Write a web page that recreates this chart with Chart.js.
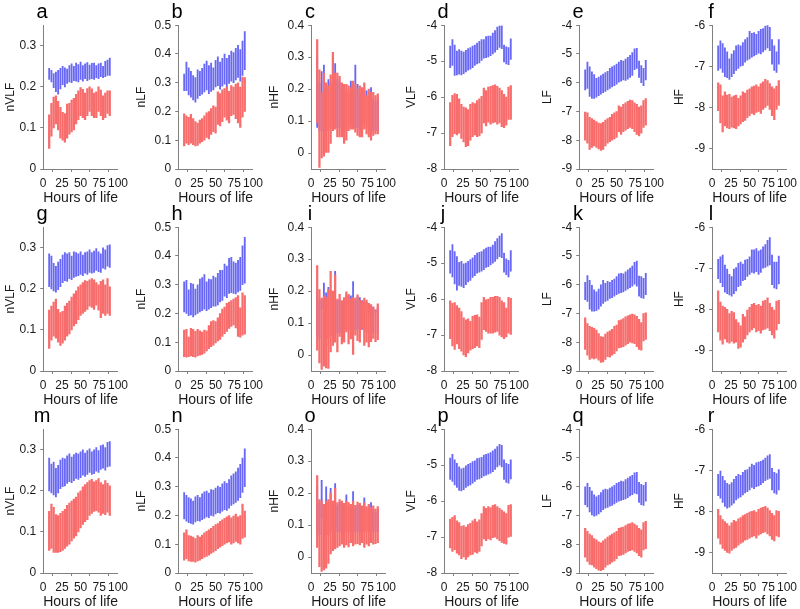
<!DOCTYPE html>
<html>
<head>
<meta charset="utf-8">
<script src="https://cdn.jsdelivr.net/npm/chart.js@4.4.1/dist/chart.umd.min.js"></script>
<style>
  body { margin: 0; background: #fff; }
  #fig { position: relative; width: 800px; height: 609px; overflow: hidden; background: #fff; }
  #fig canvas { position: absolute; }
  .letter { position: absolute; font: 20px "Liberation Sans", Arial, sans-serif; line-height: 20px; color: #000; transform: translateX(-50%); }
</style>
</head>
<body>
<div id="fig"></div>
<script>
// hours of life for each bar
const hours = [8, 11, 14, 17, 20, 23, 26, 29, 32, 35, 38, 41, 44, 47, 50, 53, 56, 59, 62, 65, 68, 71, 74, 77, 80, 83, 86, 89];
const xTicks = [0, 25, 50, 75, 100];

// y axis per column
const yLabels = ['nVLF', 'nLF', 'nHF', 'VLF', 'LF', 'HF'];
const yMins = [0, 0, -0.05, -8, -9, -9.5];
const yMaxs = [0.35, 0.5, 0.4, -4, -4, -6];
const yTicks = [
  [0, 0.1, 0.2, 0.3],
  [0, 0.1, 0.2, 0.3, 0.4, 0.5],
  [0, 0.1, 0.2, 0.3, 0.4],
  [-8, -7, -6, -5, -4],
  [-9, -8, -7, -6, -5, -4],
  [-9, -8, -7, -6]
];

// ---- row 1 ----
const aBlueHi = [.245,.240,.232,.236,.240,.245,.250,.246,.243,.252,.256,.250,.258,.254,.260,.252,.256,.259,.253,.257,.258,.252,.256,.258,.250,.262,.265,.270];
const aBlueLo = [.218,.212,.198,.188,.182,.195,.205,.200,.208,.212,.210,.215,.214,.212,.218,.214,.220,.215,.218,.220,.218,.222,.220,.225,.222,.225,.228,.228];
const aRedHi = [.132,.160,.175,.178,.165,.150,.138,.135,.158,.160,.168,.172,.182,.190,.198,.194,.185,.196,.200,.195,.185,.188,.200,.192,.178,.185,.190,.190];
const aRedLo = [.050,.080,.100,.110,.095,.075,.070,.065,.075,.085,.090,.095,.110,.120,.130,.125,.120,.130,.140,.130,.125,.125,.140,.130,.120,.125,.135,.130];

const bBlueHi = [.330,.372,.352,.340,.325,.318,.345,.340,.350,.365,.375,.360,.368,.352,.378,.390,.372,.385,.400,.385,.395,.410,.405,.420,.430,.415,.445,.478];
const bBlueLo = [.272,.272,.258,.250,.240,.232,.245,.255,.260,.268,.275,.262,.270,.275,.285,.290,.278,.288,.295,.285,.298,.305,.300,.310,.318,.305,.325,.345];
const bRedHi = [.192,.185,.180,.190,.175,.165,.160,.170,.175,.185,.195,.200,.210,.220,.215,.268,.262,.275,.280,.285,.270,.290,.285,.295,.300,.285,.320,.318];
const bRedLo = [.080,.090,.085,.090,.085,.080,.082,.090,.095,.100,.110,.105,.120,.130,.125,.155,.150,.165,.180,.170,.160,.185,.190,.175,.160,.145,.180,.200];

const cBlueHi = [.300,.220,.255,.275,.200,.230,.220,.280,.280,.230,.220,.200,.200,.200,.190,.225,.200,.275,.215,.190,.190,.200,.195,.180,.205,.170,.160,.170];
const cBlueLo = [.080,.070,.070,.070,.070,.070,.080,.080,.090,.080,.080,.070,.070,.070,.080,.090,.080,.080,.080,.070,.070,.090,.080,.070,.070,.070,.070,.070];
const cRedHi = [.355,.260,.190,.250,.220,.210,.245,.315,.250,.250,.240,.220,.215,.215,.210,.205,.225,.215,.200,.210,.205,.220,.180,.200,.190,.190,.180,.185];
const cRedLo = [.095,-.045,-.015,-.010,.000,.000,.030,.070,.075,.050,.050,.050,.030,.040,.070,.075,.075,.065,.055,.050,.050,.075,.060,.050,.040,.055,.060,.060];

const dBlueHi = [-4.58,-4.40,-4.55,-4.72,-4.68,-4.72,-4.75,-4.70,-4.65,-4.62,-4.58,-4.55,-4.50,-4.45,-4.40,-4.40,-4.32,-4.30,-4.30,-4.22,-4.15,-4.05,-4.02,-4.02,-4.55,-4.60,-4.62,-4.38];
const dBlueLo = [-5.18,-5.12,-5.40,-5.38,-5.36,-5.38,-5.35,-5.30,-5.25,-5.22,-5.18,-5.12,-5.08,-5.05,-4.98,-4.92,-4.90,-4.88,-4.85,-4.80,-4.75,-4.68,-4.62,-4.65,-5.02,-5.08,-5.10,-4.95];
const dRedHi = [-6.15,-5.95,-5.90,-5.92,-6.05,-6.20,-6.28,-6.30,-6.35,-6.20,-6.15,-6.18,-6.10,-6.05,-5.98,-5.75,-5.82,-5.72,-5.70,-5.68,-5.66,-5.70,-5.75,-5.82,-5.92,-6.00,-5.72,-5.68];
const dRedLo = [-7.35,-7.10,-7.02,-7.05,-7.00,-7.15,-7.25,-7.38,-7.35,-7.20,-7.10,-7.05,-7.10,-7.08,-7.00,-6.72,-6.80,-6.70,-6.75,-6.72,-6.70,-6.75,-6.72,-6.82,-6.85,-6.78,-6.62,-6.62];

const eBlueHi = [-5.55,-5.28,-5.45,-5.62,-5.72,-5.85,-5.80,-5.75,-5.70,-5.65,-5.60,-5.50,-5.45,-5.40,-5.35,-5.28,-5.22,-5.25,-5.18,-5.12,-5.05,-4.95,-4.82,-4.80,-5.25,-5.40,-5.50,-5.22];
const eBlueLo = [-6.25,-6.20,-6.48,-6.55,-6.55,-6.50,-6.45,-6.40,-6.35,-6.30,-6.25,-6.20,-6.15,-6.10,-6.05,-5.98,-5.95,-5.90,-5.92,-5.88,-5.82,-5.75,-5.55,-5.50,-5.82,-6.00,-6.10,-5.90];
const eRedHi = [-7.02,-7.05,-7.20,-7.25,-7.30,-7.35,-7.40,-7.42,-7.38,-7.30,-7.25,-7.20,-7.10,-7.05,-7.00,-6.80,-6.85,-6.75,-6.70,-6.65,-6.60,-6.62,-6.70,-6.75,-6.85,-6.80,-6.62,-6.55];
const eRedLo = [-8.00,-8.10,-8.32,-8.25,-8.20,-8.25,-8.30,-8.35,-8.32,-8.20,-8.10,-8.05,-8.00,-7.95,-7.90,-7.70,-7.80,-7.70,-7.65,-7.60,-7.55,-7.60,-7.70,-7.80,-7.85,-7.75,-7.55,-7.48];

const fBlueHi = [-6.50,-6.38,-6.45,-6.55,-6.65,-6.82,-6.70,-6.62,-6.50,-6.48,-6.50,-6.42,-6.35,-6.30,-6.15,-6.20,-6.18,-6.22,-6.15,-6.10,-6.08,-6.02,-6.00,-6.05,-6.35,-6.50,-6.65,-6.35];
const fBlueLo = [-7.10,-7.05,-7.15,-7.25,-7.28,-7.32,-7.25,-7.18,-7.10,-7.05,-7.00,-6.98,-6.90,-6.85,-6.82,-6.78,-6.75,-6.72,-6.68,-6.70,-6.65,-6.60,-6.55,-6.62,-6.95,-7.10,-7.15,-6.95];
const fRedHi = [-7.40,-7.45,-7.72,-7.62,-7.70,-7.68,-7.75,-7.72,-7.70,-7.78,-7.72,-7.62,-7.65,-7.58,-7.55,-7.50,-7.48,-7.45,-7.50,-7.42,-7.38,-7.32,-7.35,-7.42,-7.50,-7.55,-7.48,-7.35];
const fRedLo = [-8.08,-8.38,-8.60,-8.45,-8.50,-8.52,-8.48,-8.50,-8.52,-8.45,-8.40,-8.35,-8.32,-8.25,-8.20,-8.15,-8.18,-8.12,-8.10,-8.15,-8.05,-8.00,-7.95,-8.05,-8.20,-8.30,-8.05,-7.95];

// ---- row 2 ----
const gBlueHi = [.285,.280,.262,.255,.265,.272,.282,.288,.285,.288,.280,.290,.288,.285,.290,.282,.288,.290,.295,.288,.292,.298,.290,.285,.300,.295,.305,.307];
const gBlueLo = [.205,.200,.195,.192,.198,.205,.215,.220,.218,.225,.222,.228,.230,.232,.235,.232,.238,.235,.240,.238,.240,.245,.242,.240,.250,.248,.255,.252];
const gRedHi = [.148,.158,.168,.175,.150,.142,.145,.158,.165,.170,.180,.188,.195,.205,.210,.215,.220,.218,.222,.225,.222,.215,.210,.218,.222,.210,.225,.205];
const gRedLo = [.055,.075,.085,.080,.070,.062,.068,.075,.085,.090,.100,.110,.115,.125,.135,.140,.145,.150,.158,.155,.150,.160,.148,.130,.140,.135,.140,.135];

const hBlueHi = [.310,.315,.282,.305,.302,.285,.300,.320,.325,.335,.310,.320,.318,.330,.325,.340,.350,.350,.372,.365,.392,.395,.380,.375,.385,.395,.435,.465];
const hBlueLo = [.205,.200,.192,.195,.188,.195,.200,.205,.210,.215,.210,.215,.220,.225,.225,.230,.240,.245,.260,.255,.270,.272,.270,.268,.275,.280,.300,.305];
const hRedHi = [.142,.145,.118,.148,.145,.138,.145,.140,.135,.142,.140,.158,.172,.175,.172,.185,.200,.215,.222,.235,.240,.245,.250,.255,.262,.220,.272,.262];
const hRedLo = [.050,.048,.050,.052,.050,.048,.052,.055,.058,.062,.070,.078,.085,.090,.098,.105,.110,.120,.130,.138,.148,.155,.160,.150,.120,.118,.125,.128];

const iBlueHi = [.200,.170,.175,.225,.195,.212,.200,.190,.262,.170,.172,.165,.175,.185,.185,.185,.230,.170,.182,.180,.170,.165,.165,.162,.155,.150,.140,.150];
const iBlueLo = [.060,.050,.145,.050,.050,.050,.060,.060,.200,.070,.070,.070,.070,.080,.080,.080,.170,.080,.080,.080,.080,.080,.070,.130,.070,.070,.135,.070];
const iRedHi = [.280,.205,.178,.185,.180,.205,.262,.200,.250,.175,.190,.170,.180,.198,.190,.175,.180,.178,.188,.172,.168,.178,.172,.162,.158,.150,.142,.160];
const iRedLo = [.015,-.025,-.045,-.035,-.040,-.042,.010,.030,.040,.010,.058,.035,.040,.072,.035,.050,.000,.062,.045,.040,.082,.030,.040,.025,.042,.052,.042,.048];

const jBlueHi = [-4.65,-4.48,-4.68,-4.82,-4.98,-4.95,-5.02,-5.00,-4.95,-4.90,-4.85,-4.78,-4.72,-4.70,-4.68,-4.62,-4.58,-4.55,-4.55,-4.50,-4.40,-4.32,-4.25,-4.18,-4.72,-4.88,-4.92,-4.65];
const jBlueLo = [-5.28,-5.38,-5.58,-5.75,-5.62,-5.65,-5.68,-5.60,-5.52,-5.48,-5.40,-5.35,-5.28,-5.25,-5.22,-5.18,-5.12,-5.10,-5.05,-5.00,-4.95,-4.88,-4.82,-4.85,-5.25,-5.32,-5.38,-5.22];
const jRedHi = [-6.05,-6.12,-6.10,-6.18,-6.25,-6.35,-6.52,-6.58,-6.55,-6.62,-6.48,-6.45,-6.44,-6.50,-6.10,-5.95,-6.02,-6.00,-5.95,-5.95,-5.92,-5.92,-5.95,-6.05,-6.10,-6.25,-5.95,-5.98];
const jRedLo = [-7.10,-7.30,-7.40,-7.25,-7.38,-7.45,-7.55,-7.60,-7.50,-7.42,-7.38,-7.35,-7.30,-7.35,-7.12,-6.85,-6.90,-6.95,-6.95,-6.95,-6.92,-6.90,-7.00,-7.05,-7.10,-7.05,-6.95,-6.98];

const kBlueHi = [-5.92,-5.68,-5.85,-6.02,-6.18,-6.25,-6.15,-6.00,-5.85,-5.95,-5.88,-5.92,-5.85,-5.80,-5.72,-5.62,-5.60,-5.62,-5.55,-5.48,-5.42,-5.35,-5.22,-5.18,-5.70,-5.72,-5.78,-5.60];
const kBlueLo = [-6.52,-6.58,-6.85,-6.92,-6.92,-6.90,-6.85,-6.75,-6.65,-6.58,-6.55,-6.48,-6.45,-6.40,-6.35,-6.30,-6.28,-6.25,-6.20,-6.15,-6.10,-6.05,-5.98,-6.05,-6.40,-6.45,-6.48,-6.35];
const kRedHi = [-7.15,-7.35,-7.45,-7.48,-7.52,-7.58,-7.70,-7.80,-7.82,-7.72,-7.65,-7.60,-7.55,-7.45,-7.40,-7.25,-7.22,-7.18,-7.12,-7.08,-7.05,-7.02,-7.05,-7.10,-7.20,-7.32,-7.00,-6.98];
const kRedLo = [-8.25,-8.45,-8.60,-8.55,-8.58,-8.55,-8.62,-8.70,-8.68,-8.60,-8.50,-8.52,-8.45,-8.40,-8.30,-8.20,-8.18,-8.15,-8.10,-8.05,-8.00,-8.02,-8.05,-8.15,-8.25,-8.28,-7.95,-7.90];

const lBlueHi = [-6.78,-6.72,-6.68,-6.92,-7.02,-7.15,-7.20,-7.02,-6.98,-6.88,-6.85,-6.90,-6.80,-6.78,-6.72,-6.55,-6.55,-6.52,-6.58,-6.55,-6.48,-6.42,-6.32,-6.25,-6.68,-6.85,-6.85,-6.70];
const lBlueLo = [-7.25,-7.35,-7.45,-7.58,-7.62,-7.65,-7.68,-7.62,-7.55,-7.45,-7.42,-7.30,-7.28,-7.20,-7.15,-7.10,-7.12,-7.08,-7.15,-7.10,-7.00,-6.98,-6.95,-6.92,-7.40,-7.48,-7.50,-7.38];
const lRedHi = [-7.55,-7.82,-7.92,-7.95,-8.00,-8.10,-8.05,-8.08,-8.25,-8.32,-8.40,-8.12,-8.18,-8.02,-7.95,-7.88,-7.85,-7.90,-7.88,-7.92,-7.80,-7.78,-7.72,-7.85,-7.95,-8.02,-7.80,-7.78];
const lRedLo = [-8.55,-8.75,-8.85,-8.72,-8.80,-8.82,-8.78,-8.82,-8.80,-8.95,-8.92,-8.80,-8.72,-8.62,-8.55,-8.50,-8.45,-8.55,-8.52,-8.58,-8.50,-8.48,-8.45,-8.52,-8.62,-8.70,-8.50,-8.35];

// ---- row 3 ----
const mBlueHi = [.280,.265,.270,.255,.262,.275,.280,.278,.285,.290,.282,.288,.292,.290,.295,.300,.292,.298,.302,.295,.300,.305,.298,.310,.312,.305,.318,.320];
const mBlueLo = [.200,.195,.190,.185,.195,.205,.210,.212,.218,.222,.220,.225,.230,.228,.232,.238,.235,.240,.245,.240,.242,.248,.245,.252,.255,.250,.258,.260];
const mRedHi = [.150,.168,.160,.142,.140,.145,.150,.155,.165,.170,.175,.180,.185,.195,.200,.210,.215,.220,.225,.228,.222,.225,.230,.220,.215,.225,.218,.212];
const mRedLo = [.055,.060,.050,.050,.050,.052,.055,.060,.065,.070,.078,.085,.090,.100,.110,.118,.125,.130,.140,.145,.150,.152,.148,.140,.145,.142,.148,.140];

const nBlueHi = [.280,.270,.262,.258,.250,.265,.270,.262,.275,.282,.285,.278,.290,.288,.295,.302,.298,.310,.318,.312,.325,.338,.345,.352,.365,.378,.400,.432];
const nBlueLo = [.188,.180,.175,.172,.170,.178,.182,.180,.185,.190,.195,.192,.200,.198,.205,.210,.208,.215,.220,.218,.225,.235,.240,.245,.252,.262,.280,.300];
const nRedHi = [.140,.150,.130,.128,.125,.120,.130,.125,.132,.140,.145,.150,.155,.162,.168,.172,.180,.185,.190,.195,.200,.192,.198,.205,.195,.200,.240,.215];
const nRedLo = [.045,.050,.042,.040,.040,.038,.042,.045,.050,.055,.058,.062,.068,.072,.078,.085,.090,.095,.100,.105,.108,.100,.105,.110,.105,.100,.120,.125];

const oBlueHi = [.220,.170,.240,.155,.220,.170,.215,.165,.230,.160,.170,.165,.158,.195,.160,.155,.205,.152,.162,.158,.150,.185,.148,.155,.170,.150,.140,.148];
const oBlueLo = [.080,.070,.120,.070,.070,.070,.080,.080,.100,.080,.080,.080,.080,.080,.080,.080,.080,.080,.080,.080,.080,.080,.080,.080,.080,.080,.080,.080];
const oRedHi = [.255,.180,.175,.165,.175,.180,.200,.175,.215,.170,.180,.175,.168,.175,.170,.165,.175,.162,.172,.168,.160,.170,.158,.165,.155,.160,.150,.158];
const oRedLo = [.030,-.030,-.045,-.040,-.035,-.020,.010,.020,.025,.030,.035,.040,.030,.038,.032,.045,.035,.040,.042,.038,.045,.030,.040,.035,.045,.040,.042,.045];

const pBlueHi = [-4.80,-4.70,-4.85,-4.95,-5.05,-5.10,-5.08,-5.02,-4.98,-4.95,-4.90,-4.88,-4.82,-4.80,-4.78,-4.72,-4.70,-4.68,-4.65,-4.60,-4.55,-4.48,-4.42,-4.45,-4.85,-4.95,-4.98,-4.85];
const pBlueLo = [-5.40,-5.45,-5.55,-5.62,-5.70,-5.72,-5.68,-5.62,-5.58,-5.55,-5.50,-5.45,-5.40,-5.38,-5.35,-5.30,-5.28,-5.25,-5.22,-5.18,-5.12,-5.05,-5.00,-5.05,-5.40,-5.48,-5.50,-5.38];
const pRedHi = [-6.50,-6.45,-6.40,-6.55,-6.60,-6.70,-6.68,-6.72,-6.65,-6.62,-6.55,-6.50,-6.58,-6.52,-6.35,-6.15,-6.20,-6.15,-6.18,-6.12,-6.10,-6.15,-6.20,-6.25,-6.30,-6.35,-6.12,-6.10];
const pRedLo = [-7.30,-7.40,-7.35,-7.45,-7.50,-7.60,-7.55,-7.62,-7.55,-7.50,-7.48,-7.42,-7.45,-7.40,-7.25,-7.05,-7.10,-7.05,-7.08,-7.02,-7.00,-7.05,-7.10,-7.15,-7.18,-7.20,-7.00,-6.98];

const qBlueHi = [-6.00,-5.88,-6.02,-6.15,-6.28,-6.35,-6.30,-6.20,-6.12,-6.08,-6.10,-6.05,-6.00,-5.95,-5.88,-5.85,-5.80,-5.82,-5.75,-5.70,-5.65,-5.60,-5.52,-5.50,-5.85,-5.92,-5.95,-5.85];
const qBlueLo = [-6.62,-6.70,-6.88,-6.98,-7.02,-7.00,-6.95,-6.88,-6.80,-6.75,-6.72,-6.68,-6.65,-6.60,-6.55,-6.50,-6.48,-6.45,-6.42,-6.38,-6.32,-6.28,-6.22,-6.25,-6.55,-6.62,-6.65,-6.50];
const qRedHi = [-7.45,-7.55,-7.65,-7.70,-7.80,-7.85,-7.92,-7.95,-7.88,-7.82,-7.75,-7.70,-7.65,-7.60,-7.55,-7.45,-7.42,-7.40,-7.35,-7.30,-7.28,-7.25,-7.30,-7.35,-7.45,-7.50,-7.25,-7.20];
const qRedLo = [-8.45,-8.60,-8.70,-8.72,-8.80,-8.85,-8.90,-8.92,-8.88,-8.80,-8.72,-8.68,-8.62,-8.58,-8.50,-8.40,-8.38,-8.35,-8.30,-8.25,-8.22,-8.20,-8.25,-8.30,-8.40,-8.45,-8.20,-8.15];

const rBlueHi = [-7.10,-7.02,-7.15,-7.25,-7.32,-7.35,-7.30,-7.22,-7.15,-7.10,-7.12,-7.05,-7.00,-6.98,-6.92,-6.85,-6.88,-6.82,-6.80,-6.78,-6.75,-6.70,-6.65,-6.62,-6.95,-7.05,-7.08,-6.98];
const rBlueLo = [-7.62,-7.68,-7.78,-7.88,-7.92,-7.90,-7.85,-7.80,-7.72,-7.68,-7.65,-7.60,-7.55,-7.52,-7.48,-7.42,-7.45,-7.40,-7.38,-7.35,-7.30,-7.25,-7.22,-7.20,-7.48,-7.55,-7.58,-7.48];
const rRedHi = [-7.95,-8.10,-8.20,-8.25,-8.30,-8.35,-8.28,-8.22,-8.25,-8.18,-8.15,-8.10,-8.08,-8.05,-8.02,-8.00,-7.98,-8.02,-7.95,-7.92,-7.90,-7.88,-7.92,-7.98,-8.05,-8.10,-7.98,-8.00];
const rRedLo = [-8.65,-8.80,-8.90,-8.95,-9.00,-9.02,-8.95,-8.90,-8.88,-8.82,-8.78,-8.75,-8.70,-8.68,-8.65,-8.62,-8.60,-8.65,-8.58,-8.55,-8.52,-8.50,-8.55,-8.60,-8.68,-8.72,-8.60,-8.62];

const letters = 'abcdefghijklmnopqr'.split('');
const panelData = {
  a: [aBlueLo, aBlueHi, aRedLo, aRedHi], b: [bBlueLo, bBlueHi, bRedLo, bRedHi],
  c: [cBlueLo, cBlueHi, cRedLo, cRedHi], d: [dBlueLo, dBlueHi, dRedLo, dRedHi],
  e: [eBlueLo, eBlueHi, eRedLo, eRedHi], f: [fBlueLo, fBlueHi, fRedLo, fRedHi],
  g: [gBlueLo, gBlueHi, gRedLo, gRedHi], h: [hBlueLo, hBlueHi, hRedLo, hRedHi],
  i: [iBlueLo, iBlueHi, iRedLo, iRedHi], j: [jBlueLo, jBlueHi, jRedLo, jRedHi],
  k: [kBlueLo, kBlueHi, kRedLo, kRedHi], l: [lBlueLo, lBlueHi, lRedLo, lRedHi],
  m: [mBlueLo, mBlueHi, mRedLo, mRedHi], n: [nBlueLo, nBlueHi, nRedLo, nRedHi],
  o: [oBlueLo, oBlueHi, oRedLo, oRedHi], p: [pBlueLo, pBlueHi, pRedLo, pRedHi],
  q: [qBlueLo, qBlueHi, qRedLo, qRedHi], r: [rBlueLo, rBlueHi, rRedLo, rRedHi]
};

// layout (pixels)
const axisLeft = [43, 178, 311, 444, 579, 712];
const yTitleOffset = [33, 37, 37, 33, 32, 33];
const rowTop = [24, 226, 428];
const plotW = 77, plotH = 145;
const padTop = 10, padRight = 12, xAxisH = 38;

const BLUE = 'rgb(104,104,245)';
const RED = 'rgb(248,108,108)';
const AXIS = '#808080';

Chart.defaults.font.family = '"Liberation Sans", Arial, sans-serif';
Chart.defaults.color = '#1a1a1a';

const fig = document.getElementById('fig');

function bars(lo, hi) {
  return hours.map((h, i) => ({ x: h, y: [lo[i], hi[i]] }));
}

letters.forEach((letter, idx) => {
  const row = Math.floor(idx / 6);
  const col = idx % 6;
  const yW = yTitleOffset[col] + 7.2;
  const left = axisLeft[col] - yW;
  const top = rowTop[row] - padTop;

  const canvas = document.createElement('canvas');
  canvas.width = Math.round(yW + plotW + padRight);
  canvas.height = padTop + plotH + xAxisH;
  canvas.style.left = left + 'px';
  canvas.style.top = top + 'px';
  fig.appendChild(canvas);

  const lab = document.createElement('div');
  lab.className = 'letter';
  lab.textContent = letter;
  lab.style.left = (axisLeft[col] - 1) + 'px';
  lab.style.top = (rowTop[row] - 23) + 'px';
  fig.appendChild(lab);

  const [bLo, bHi, rLo, rHi] = panelData[letter];

  new Chart(canvas, {
    type: 'bar',
    data: {
      datasets: [
        // first dataset is painted on top: red over blue, a touch wider so blue edges don't bleed through
        { data: bars(rLo, rHi), backgroundColor: RED, barThickness: 1.6, grouped: false },
        { data: bars(bLo, bHi), backgroundColor: BLUE, barThickness: 1.2, grouped: false }
      ]
    },
    options: {
      responsive: false,
      animation: false,
      events: [],
      layout: { padding: { top: padTop, right: padRight, left: 0, bottom: 0 } },
      plugins: { legend: { display: false }, tooltip: { enabled: false } },
      scales: {
        x: {
          type: 'linear', min: 0, max: 100, offset: false,
          afterBuildTicks: s => { s.ticks = xTicks.map(v => ({ value: v })); },
          afterFit: s => { s.height = xAxisH; },
          ticks: { autoSkip: false, maxRotation: 0, padding: 4, font: { size: 12 } },
          grid: { drawOnChartArea: false, drawTicks: true, tickLength: 3, color: AXIS },
          border: { color: AXIS },
          title: { display: true, text: 'Hours of life', font: { size: 15 }, padding: 0 }
        },
        y: {
          min: yMins[col], max: yMaxs[col],
          afterBuildTicks: s => { s.ticks = yTicks[col].map(v => ({ value: v })); },
          afterFit: s => { s.width = yW; },
          ticks: { padding: 4, font: { size: 12 }, callback: v => String(+v.toFixed(2)) },
          grid: { drawOnChartArea: false, drawTicks: true, tickLength: 3, color: AXIS },
          border: { color: AXIS },
          title: { display: true, text: yLabels[col], font: { size: 12 }, padding: 0 }
        }
      }
    }
  });
});
</script>
</body>
</html>
